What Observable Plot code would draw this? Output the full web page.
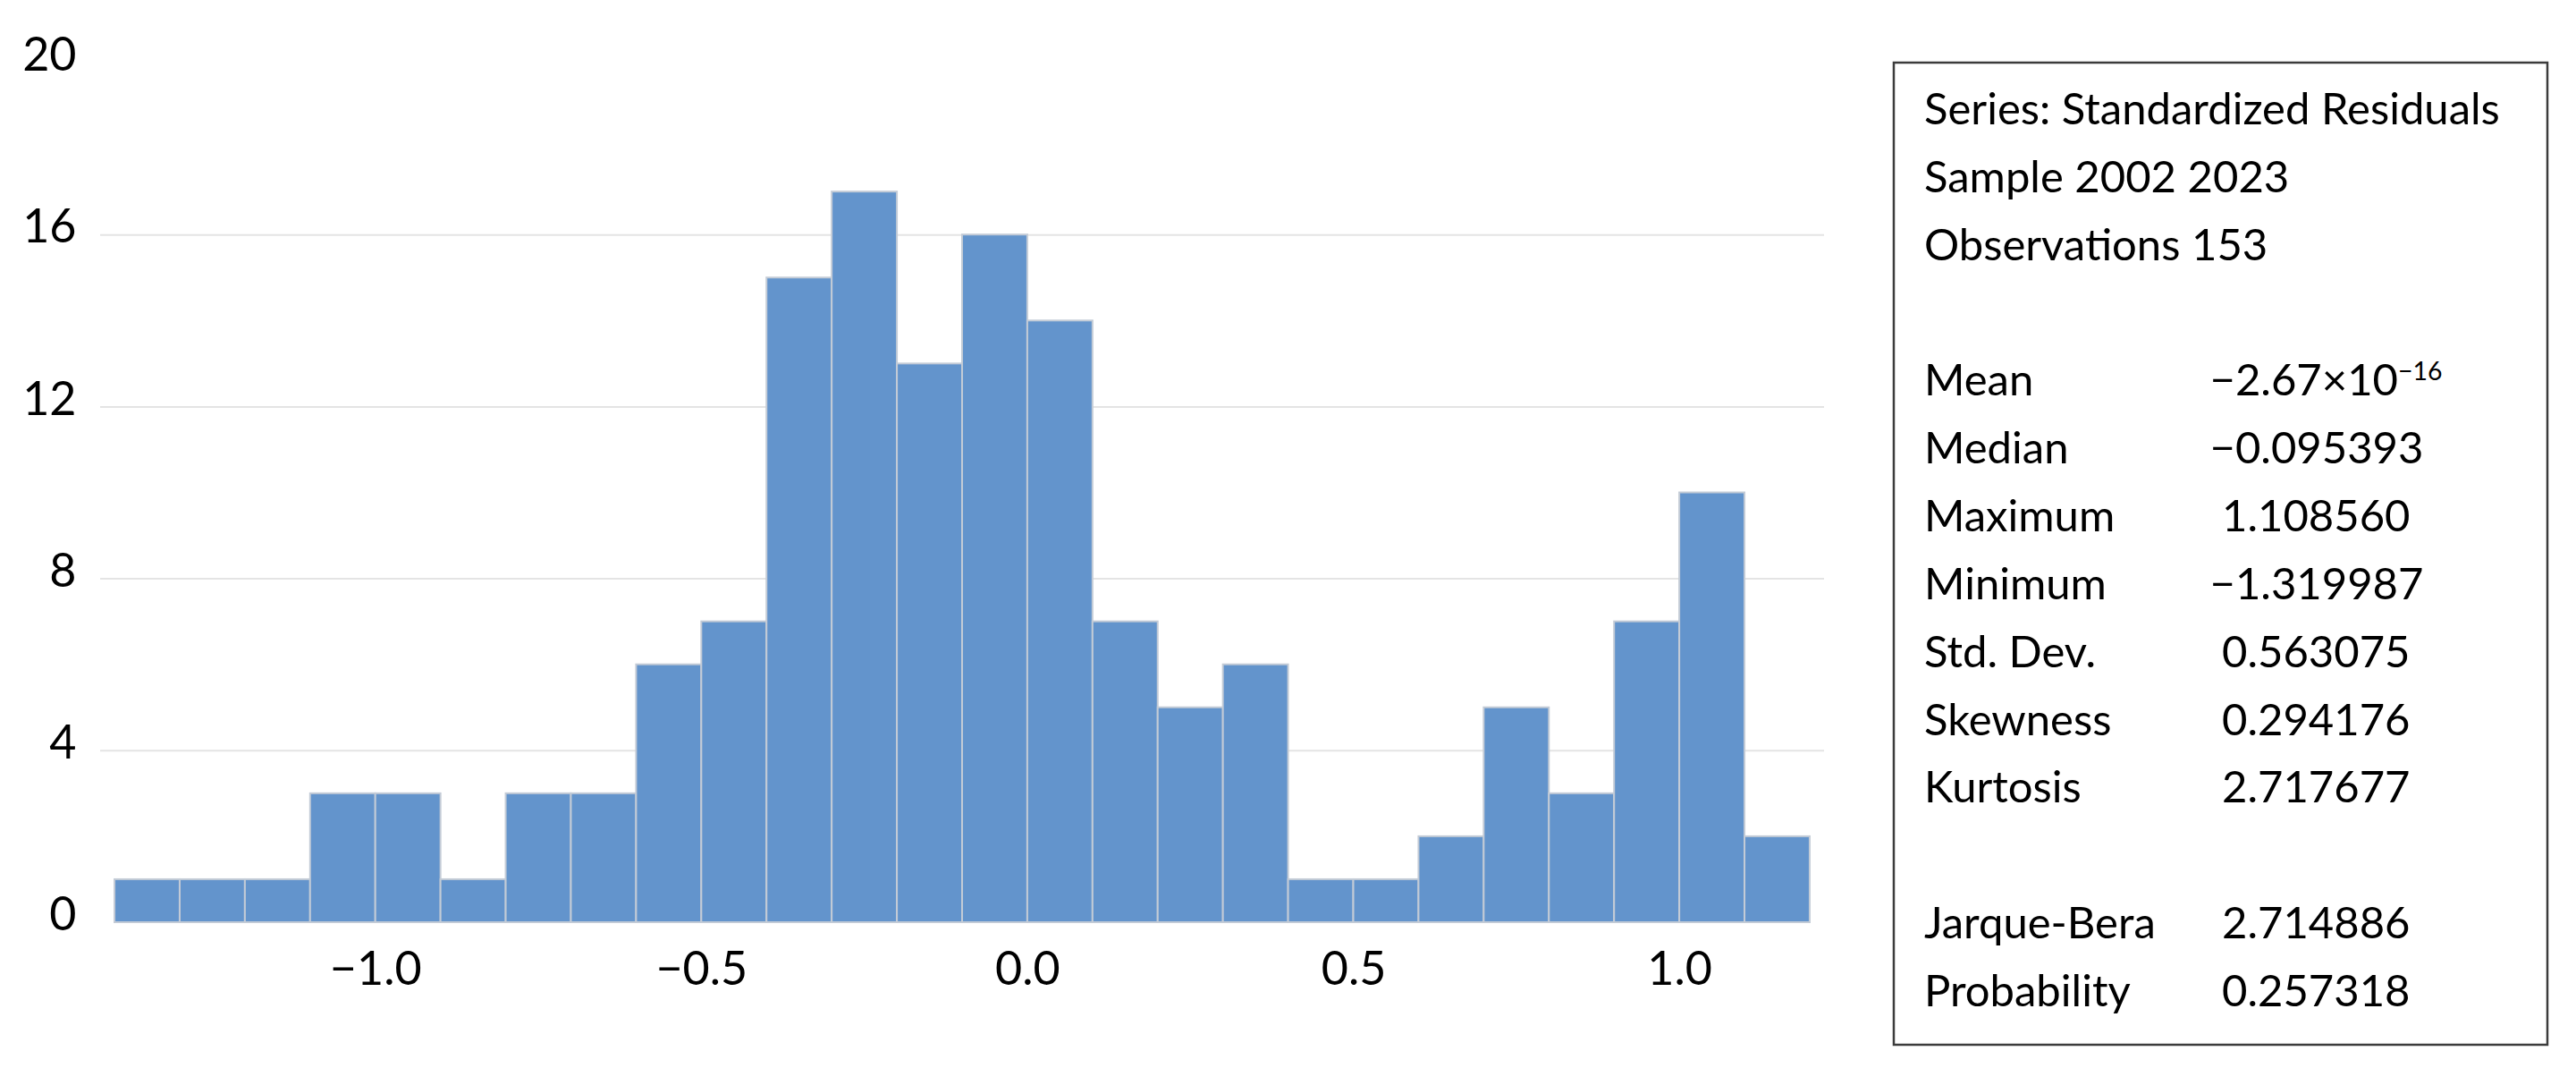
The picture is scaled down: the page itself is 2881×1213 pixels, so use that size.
<!DOCTYPE html>
<html>
<head>
<meta charset="utf-8">
<script src="https://cdn.jsdelivr.net/npm/d3@7"></script>
<script src="https://cdn.jsdelivr.net/npm/@observablehq/plot@0.6"></script>
<style>
  html, body { margin: 0; padding: 0; background: #fff; }
  #wrap { position: relative; width: 2881px; height: 1213px; overflow: hidden; }
  #chart { position: absolute; left: 0; top: 0; }
  #stats { position: absolute; left: 0; top: 0; pointer-events: none; }
</style>
</head>
<body>
<div id="wrap">
  <div id="chart"></div>
  <svg id="stats" width="2881" height="1213"></svg>
</div>
<script>
// ---- Histogram data (bin lower edges, counts) ----
const binLower = [-1.4, -1.3, -1.2, -1.1, -1.0, -0.9, -0.8, -0.7, -0.6, -0.5, -0.4, -0.3, -0.2,
                  -0.1, 0.0, 0.1, 0.2, 0.3, 0.4, 0.5, 0.6, 0.7, 0.8, 0.9, 1.0, 1.1];
const counts   = [1, 1, 1, 3, 3, 1, 3, 3, 6, 7, 15, 17, 13,
                  16, 14, 7, 5, 6, 1, 1, 2, 5, 3, 7, 10, 2];
const binWidth = 0.1;

// ---- Axis ticks ----
const xTicks = [-1.0, -0.5, 0.0, 0.5, 1.0];
const xTickLabels = ["\u22121.0", "\u22120.5", "0.0", "0.5", "1.0"];
const yTicks = [0, 4, 8, 12, 16, 20];
const yGrid = [4, 8, 12, 16];

// ---- Statistics panel ----
const headerLines = ["Series: Standardized Residuals", "Sample 2002 2023", "Observations 153"];
const statLabels = ["Mean", "Median", "Maximum", "Minimum", "Std. Dev.", "Skewness", "Kurtosis"];
const statValues = ["\u22122.67\u00d710", "\u22120.095393", "1.108560", "\u22121.319987", "0.563075", "0.294176", "2.717677"];
const meanExponent = "\u221216";
const testLabels = ["Jarque-Bera", "Probability"];
const testValues = ["2.714886", "0.257318"];

const bins = binLower.map((lo, i) => ({lo, hi: lo + binWidth, count: counts[i]}));

const FONT = "Lato, 'Open Sans', sans-serif";

const plot = Plot.plot({
  width: 2070,
  height: 1213,
  marginLeft: 112,
  marginRight: 30,
  marginTop: 70,
  marginBottom: 182,
  style: {fontFamily: FONT, fontSize: "52px", color: "#000", background: "transparent"},
  x: {domain: [-1.422, 1.222]},
  y: {domain: [0, 20]},
  marks: [
    Plot.gridY(yGrid, {stroke: "#e4e4e4", strokeOpacity: 1, strokeWidth: 2}),
    Plot.rectY(bins, {x1: "lo", x2: "hi", y: "count", fill: "#6394cc", stroke: "#c3cbd6", strokeWidth: 2}),
    Plot.axisY(yTicks, {tickSize: 0, tickPadding: 27, dy: -8, fontSize: 52, label: null, fill: "#000"}),
    Plot.axisX(xTicks, {tickSize: 0, tickPadding: 33, fontSize: 52, label: null, fill: "#000",
      tickFormat: (d) => xTickLabels[xTicks.indexOf(d)]})
  ]
});
document.getElementById("chart").appendChild(plot);

// ---- draw statistics box ----
const svg = d3.select("#stats");
const box = {x: 2118, y: 70, w: 731, h: 1098};
svg.append("rect").attr("x", box.x).attr("y", box.y).attr("width", box.w).attr("height", box.h)
  .attr("fill", "none").attr("stroke", "#3c3c3c").attr("stroke-width", 2.5);

const fs = 49;
const lineY0 = 121.4, lineStep = 75.85;
const labelX = 2152, valPosX = 2485, valNegX = 2471.5;
const base = (i) => lineY0 + i * lineStep + 0.358 * fs;

function addText(str, x, i) {
  return svg.append("text").attr("x", x).attr("y", base(i))
    .attr("font-family", FONT).attr("font-size", fs).attr("fill", "#000").text(str);
}
headerLines.forEach((t, i) => addText(t, labelX, i));
statLabels.forEach((t, k) => {
  const i = 4 + k;
  addText(t, labelX, i);
  const v = statValues[k];
  const t2 = addText(v, v.startsWith("\u2212") ? valNegX : valPosX, i);
  if (k === 0) {
    t2.append("tspan").attr("font-size", fs * 0.58).attr("dy", -fs * 0.36).text(meanExponent);
  }
});
testLabels.forEach((t, k) => {
  const i = 12 + k;
  addText(t, labelX, i);
  addText(testValues[k], valPosX, i);
});
</script>
</body>
</html>
